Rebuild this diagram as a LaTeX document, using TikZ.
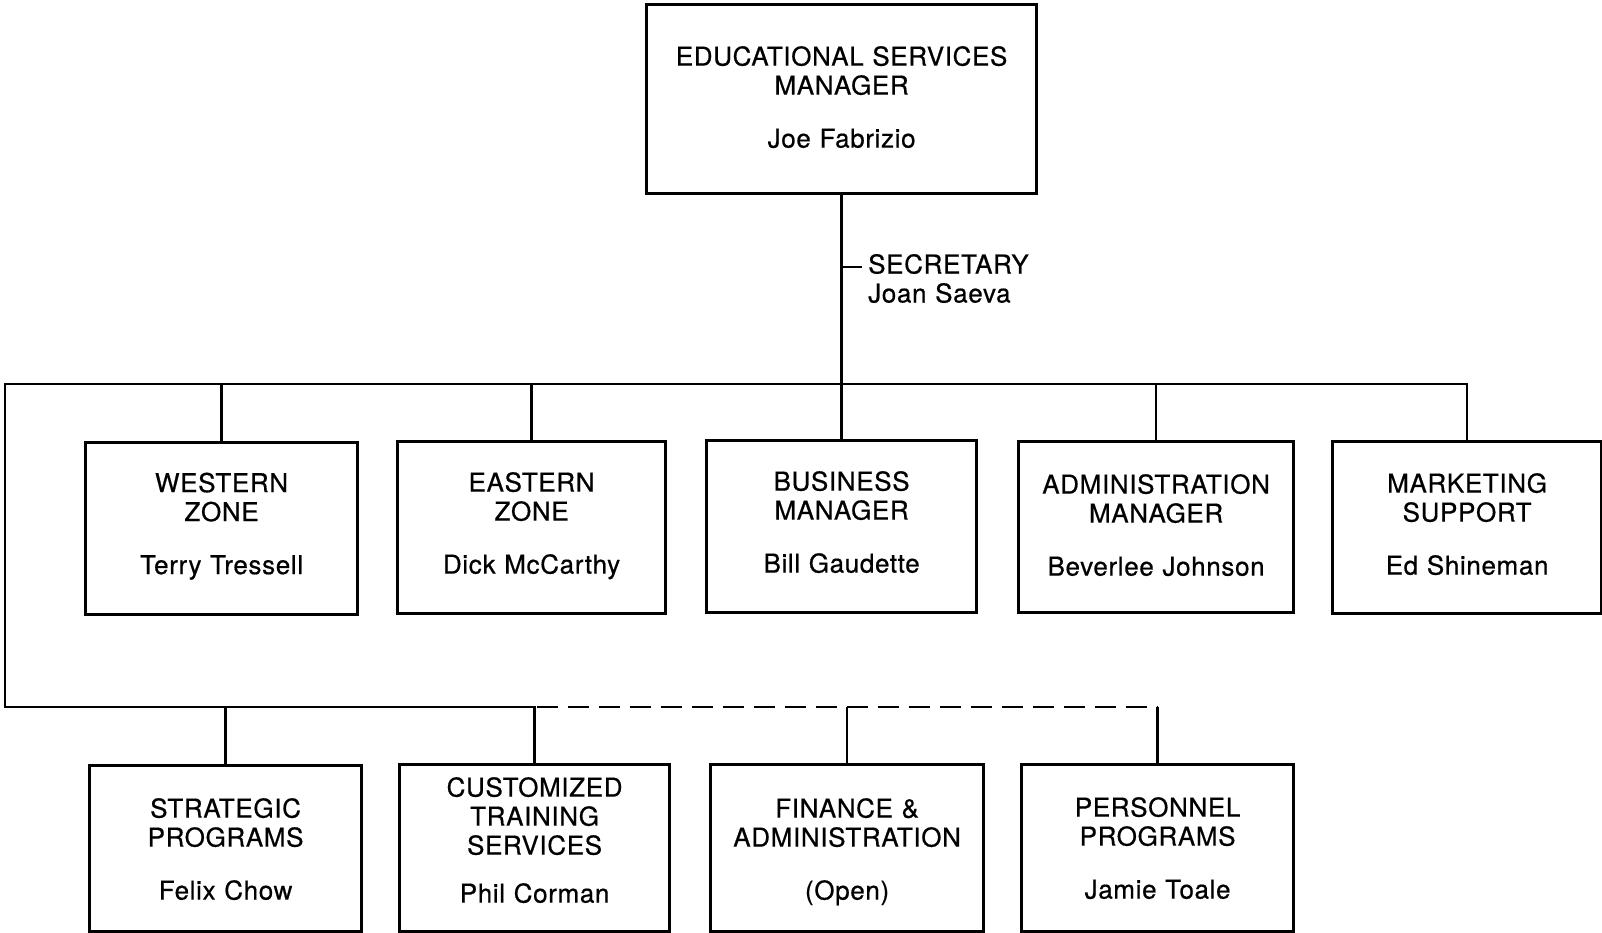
\documentclass[tikz,border=0pt]{standalone}
\usepackage{fontspec}
\setmainfont{TeX Gyre Heros}[LetterSpace=2.5, FakeBold=0.6]
\tikzset{
  box/.style={draw, line width=3.2pt, inner sep=0pt, align=center, anchor=north west,
    font=\fontsize{26}{29}\selectfont},
  conn/.style={line width=2.3pt},
  dotted link/.style={conn, dash pattern=on 21pt off 10pt, dash phase=29pt},
}
% #1 name, #2 left, #3 top, #4 right, #5 bottom, #6 first baseline, #7 text
\newcommand\orgbox[7]{%
  \pgfmathsetmacro\bw{#4-#2}%
  \pgfmathsetmacro\bh{#6-#3}%
  \pgfmathsetmacro\bd{#5-#6}%
  \node[box, text width=\bw pt, text height=\bh pt, text depth=\bd pt] (#1) at (#2,#3) {#7};}
\begin{document}
\begin{tikzpicture}[x=1pt, y=-1pt]
\useasboundingbox (0,0) rectangle (1602,932);

% head of the organisation
\orgbox{top}{645}{3}{1035}{192}{64}{EDUCATIONAL SERVICES\\MANAGER\\[24pt]Joe Fabrizio}

% first row
\orgbox{west}{84}{441}{356}{613}{490.5}{WESTERN\\ZONE\\[24pt]Terry Tressell}
\orgbox{east}{396}{440}{664}{612}{490}{EASTERN\\ZONE\\[24pt]Dick McCarthy}
\orgbox{busi}{705}{439}{975}{611}{489}{BUSINESS\\MANAGER\\[24pt]Bill Gaudette}
\orgbox{admin}{1017}{440}{1292}{611}{492}{ADMINISTRATION\\MANAGER\\[24pt]Beverlee Johnson}
\orgbox{mkt}{1331}{440}{1600}{612}{491}{MARKETING\\SUPPORT\\[24pt]Ed Shineman}

% second row
\orgbox{strat}{88}{764}{360}{930}{816}{STRATEGIC\\PROGRAMS\\[24pt]Felix Chow}
\orgbox{cust}{398}{763}{668}{930}{795}{CUSTOMIZED\\TRAINING\\SERVICES\\[19pt]Phil Corman}
\orgbox{fin}{709}{763}{982}{930}{816}{FINANCE \&\\ADMINISTRATION\\[24pt](Open)}
\orgbox{pers}{1020}{763}{1292}{930}{815}{PERSONNEL\\PROGRAMS\\[24pt]Jamie Toale}

% secretary
\node[anchor=base west, text width=200pt, align=left, inner sep=0pt,
      font=\fontsize{26}{29}\selectfont] (sec) at (868,273.5) {SECRETARY\\Joan Saeva};

% bus lines
\coordinate (b1L) at (5,384);
\coordinate (b2L) at (5,707);
\coordinate (tick) at (840,267);

\draw[conn] (top.south) -- (top.south |- b1L);
\draw[conn] (tick) -- ([xshift=-6pt]tick -| sec.west);
\draw[conn] (mkt.north) |- (b1L) -- (b2L) -| (cust.north);
\foreach \n in {west,east,busi,admin} \draw[conn] (\n.north) -- (\n.north |- b1L);
\draw[conn] (strat.north) -- (strat.north |- b2L);
\draw[dotted link] (cust.north |- b2L) -- (pers.north |- b2L);
\draw[conn] (fin.north) -- (fin.north |- b2L);
\draw[conn] (pers.north) -- (pers.north |- b2L);
\end{tikzpicture}
\end{document}
